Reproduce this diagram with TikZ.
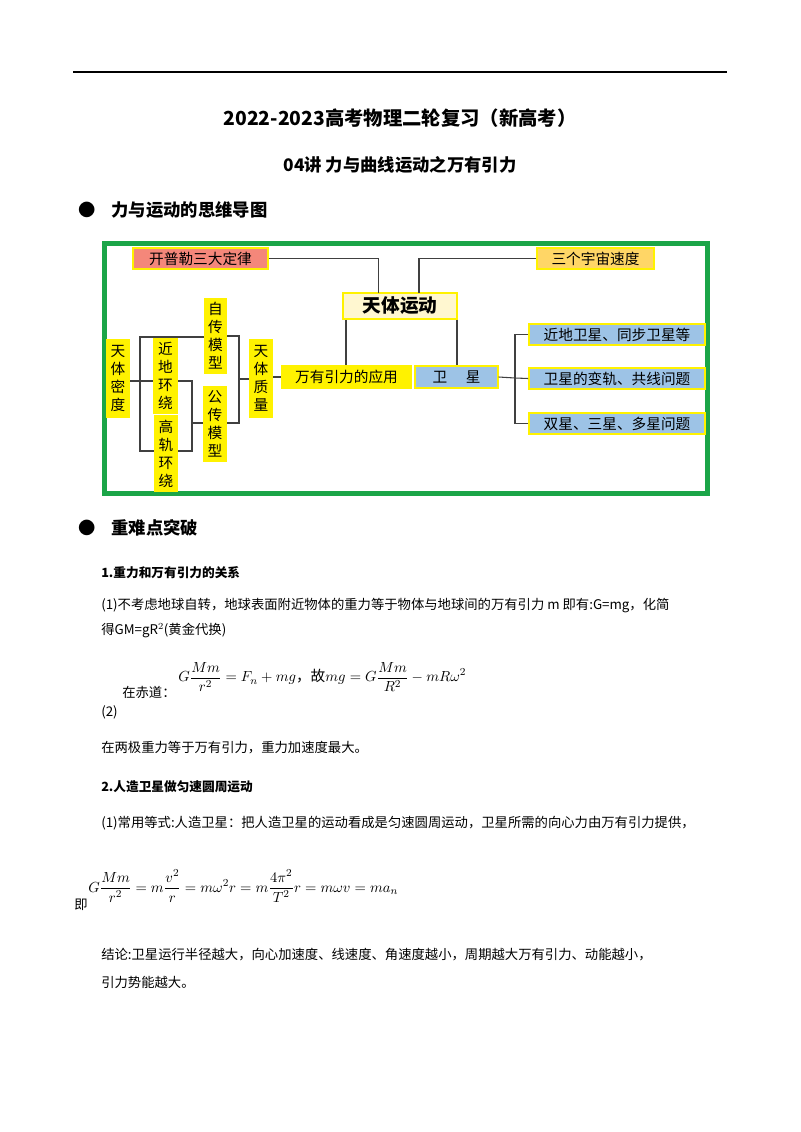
\documentclass[tikz,border=0pt]{standalone}
\usepackage{amsmath}
\usepackage{fontspec}
\setmainfont{Noto Sans CJK SC}
\begin{document}
\begin{tikzpicture}[x=0.75pt,y=-0.75pt,
  mm/.style={draw=yellow,line width=1.2pt,inner sep=0pt,font=\fontsize{11}{13.5}\selectfont,align=center},
  ybox/.style={mm,fill=yellow},
  bbox/.style={mm,fill={rgb,255:red,157;green,195;blue,230}},
  conn/.style={draw=black!75,line width=0.8pt},
  txt/.style={anchor=west,inner sep=0pt,font=\fontsize{10}{12}\selectfont}]
\useasboundingbox (0,0) rectangle (800,1132);
\draw[line width=1pt] (73,72) -- (727,72);
\node[font=\fontsize{14.5}{16}\selectfont\bfseries] (t1) at (400,118) {2022-2023高考物理二轮复习（新高考）};
\node[font=\fontsize{13}{15}\selectfont\bfseries] (t2) at (400,165) {04讲 力与曲线运动之万有引力};
\node[txt,font=\fontsize{13}{15}\selectfont\bfseries] (h1) at (78,210) {●\hspace{12pt}力与运动的思维导图};
\node[txt,font=\fontsize{13}{15}\selectfont\bfseries] (h2) at (78,528) {●\hspace{12pt}重难点突破};
% mind map
\draw[line width=3.75pt,draw={rgb,255:red,27;green,165;blue,72}] (104.5,243.5) rectangle (707.5,493.5);
\node[mm,fill={rgb,255:red,244;green,135;blue,122},minimum width=101pt,minimum height=16pt] (kep) at (200.5,258.5) {开普勒三大定律};
\node[mm,fill={rgb,255:red,255;green,214;blue,102},minimum width=88pt,minimum height=16pt] (yz) at (595.5,258.5) {三个宇宙速度};
\node[mm,fill={rgb,255:red,255;green,247;blue,208},minimum width=85.5pt,minimum height=19.5pt,font=\fontsize{14}{16}\selectfont\bfseries] (tt) at (400,306) {天体运动};
\node[ybox,minimum width=97pt,minimum height=16.5pt] (wy) at (346.5,377) {万有引力的应用};
\node[bbox,minimum width=62pt,minimum height=16.5pt] (wx) at (456.5,377) {卫\hspace{14pt}星};
\node[bbox,minimum width=132pt,minimum height=16pt] (r1) at (617,334.5) {近地卫星、同步卫星等};
\node[bbox,minimum width=132pt,minimum height=16pt] (r2) at (617,378.5) {卫星的变轨、共线问题};
\node[bbox,minimum width=132pt,minimum height=16pt] (r3) at (617,423.5) {双星、三星、多星问题};
\coordinate (c1) at (378.5,293);
\coordinate (c2) at (419,293);
\draw[conn] (kep.east) -| (c1);
\draw[conn] (yz.west) -| (c2);
\draw[conn] (tt.south -| 346,0) -- (wy.north -| 346,0);
\draw[conn] (tt.south -| 457,0) -- (wx.north -| 457,0);
\coordinate (b1) at (515,378);
\draw[conn] (wx.east) -- (b1);
\draw[conn] (r1.west) -| (b1) |- (r3.west);
\draw[conn] (b1) -- (r2.west);
% left part lines
\coordinate (l1) at (140,337);
\coordinate (l2) at (140,451);
\coordinate (l3) at (192,451);
\coordinate (l4) at (192,381);
\coordinate (m1) at (239,336);
\coordinate (m2) at (239,423);
\coordinate (m3) at (239,379);
\draw[conn] (118,381) -- (l4) -- (l3) -- (l2) -- (l1) -- (210,337);
\draw[conn] (192,423) -- (210,423);
\draw[conn] (215,336) -- (m1) -- (m2) -- (215,423);
\draw[conn] (m3) -- (261,379);
\draw[conn] (261,377) -- (wy.west);
\node[ybox,minimum width=16.5pt,minimum height=58pt] (zl) at (261,378.5) {天\\体\\质\\量};
\node[ybox,minimum width=16pt,minimum height=55.5pt] (zz) at (215.5,336) {自\\传\\模\\型};
\node[ybox,minimum width=16.5pt,minimum height=55.5pt] (gz) at (215,424) {公\\传\\模\\型};
\node[ybox,minimum width=16.5pt,minimum height=58pt] (md) at (118,378.5) {天\\体\\密\\度};
\node[ybox,minimum width=17pt,minimum height=55.5pt] (jd) at (165.5,376) {近\\地\\环\\绕};
\node[ybox,minimum width=16.5pt,minimum height=56pt] (gg) at (166,453.5) {高\\轨\\环\\绕};
% text
\node[txt,font=\fontsize{9.5}{12}\selectfont\bfseries] (s1) at (101,573) {1.重力和万有引力的关系};
\node[txt] (p1) at (101,606) {(1)不考虑地球自转，地球表面附近物体的重力等于物体与地球间的万有引力 m 即有:G=mg，化简};
\node[txt] (p2) at (101,630) {得GM=gR$^2$(黄金代换)};
\node[txt] (p3) at (122,692) {在赤道：};
\node[txt,font=\fontsize{11}{13}\selectfont] (f1) at (178,677) {$\displaystyle G\frac{Mm}{r^2}=F_n+mg\mbox{，故}mg=G\frac{Mm}{R^2}-mR\omega^2$};
\node[txt] (p4) at (101,712) {(2)};
\node[txt] (p5) at (101,748) {在两极重力等于万有引力，重力加速度最大。};
\node[txt,font=\fontsize{9.5}{12}\selectfont\bfseries] (s2) at (101,787) {2.人造卫星做匀速圆周运动};
\node[txt] (p6) at (101,823) {(1)常用等式:人造卫星：把人造卫星的运动看成是匀速圆周运动，卫星所需的向心力由万有引力提供，};
\node[txt] (p7) at (74,905) {即};
\node[txt,font=\fontsize{11}{13}\selectfont] (f2) at (88,886) {$\displaystyle G\frac{Mm}{r^2}=m\frac{v^2}{r}=m\omega^2r=m\frac{4\pi^2}{T^2}r=m\omega v=ma_n$};
\node[txt] (p8) at (101,955) {结论:卫星运行半径越大，向心加速度、线速度、角速度越小，周期越大万有引力、动能越小，};
\node[txt] (p9) at (101,982) {引力势能越大。};
\end{tikzpicture}
\end{document}
